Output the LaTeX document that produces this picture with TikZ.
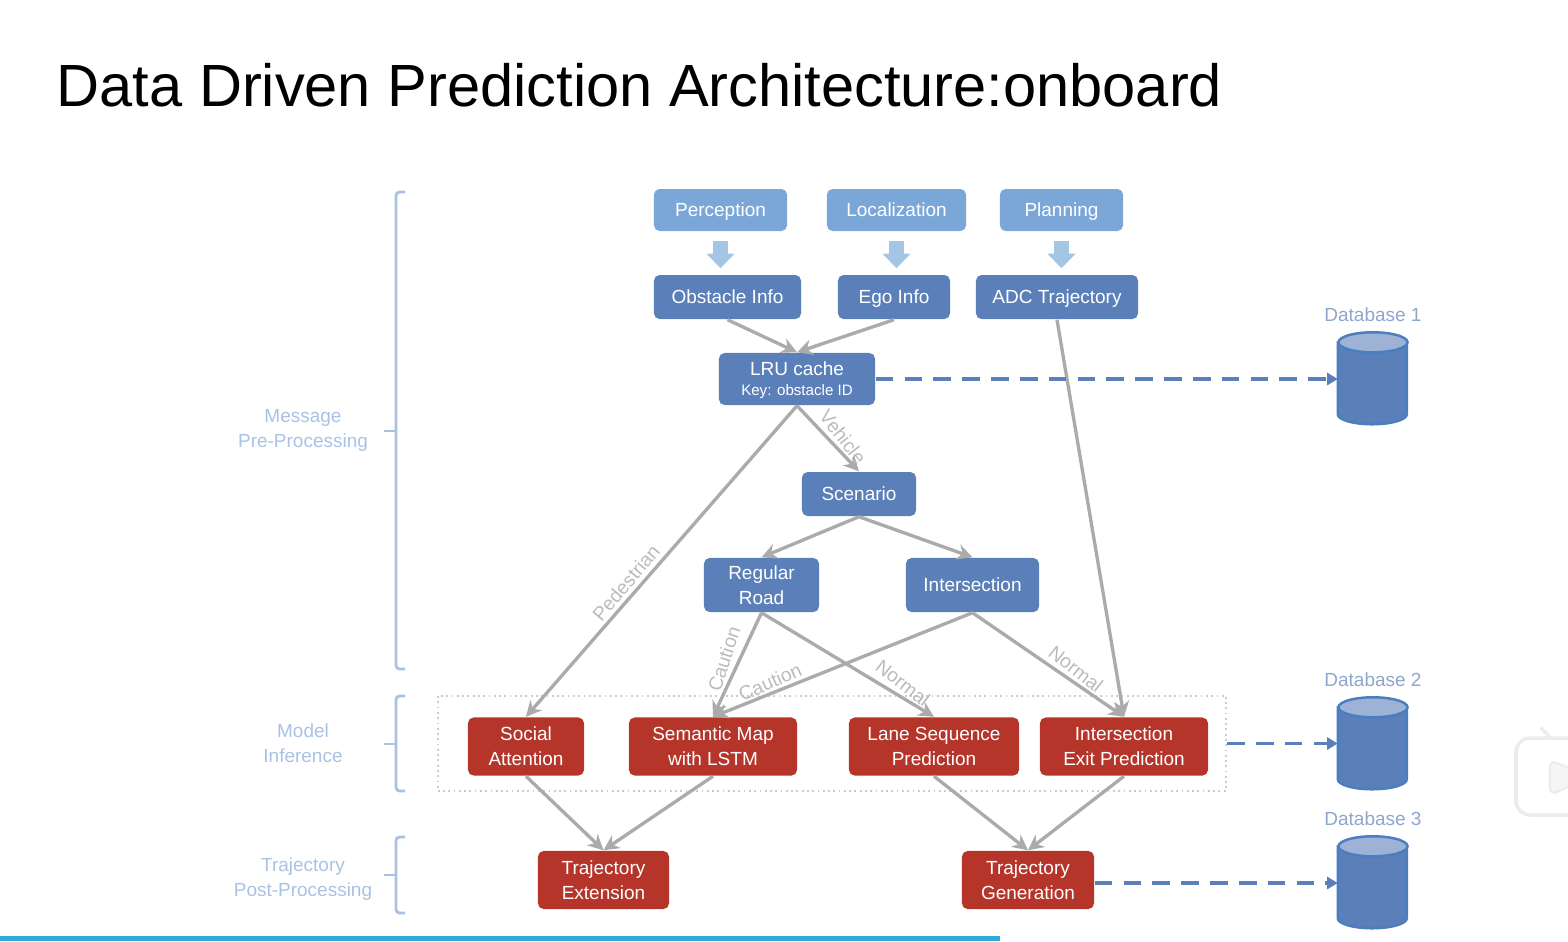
\documentclass[tikz,border=0pt]{standalone}
\usepackage{fontspec}
\setmainfont{Liberation Sans}
\usepackage{tikz}
\usetikzlibrary{arrows.meta,positioning}
\definecolor{InputBlue}{HTML}{7AA7D8}
\definecolor{FatBlue}{HTML}{A5C5E5}
\definecolor{BoxBlue}{HTML}{5B7FB8}
\definecolor{BoxRed}{HTML}{B5352B}
\definecolor{EdgeGray}{HTML}{ABABAB}
\definecolor{TagGray}{HTML}{BBBBBB}
\definecolor{SideBlue}{HTML}{A9C2E4}
\definecolor{DbEdge}{HTML}{4A7EC0}
\definecolor{DbTop}{HTML}{9DB2D5}
\definecolor{DbLabel}{HTML}{8FA6CC}
\definecolor{LineCyan}{HTML}{2BABD8}
\definecolor{IconEdge}{HTML}{ECECEC}
\definecolor{DotGray}{HTML}{C2CEE0}
\begin{document}
\begin{tikzpicture}[x=0.01cm,y=-0.01cm,
box/.style={rounded corners=1.6pt,text=white,minimum height=4.4mm,inner sep=0pt,align=center,font=\fontsize{5.4}{7.1}\selectfont},
oneline/.style={text height=3.9pt,text depth=0pt},
inbox/.style={box,oneline,fill=InputBlue,minimum height=4.2mm},
bluebox/.style={box,fill=BoxBlue},
redbox/.style={box,fill=BoxRed,minimum height=5.8mm},
arr/.style={-{Stealth[length=4.4pt,width=4.4pt]},line width=0.95pt,draw=EdgeGray},
fat/.style={-{Triangle[length=4.2pt,width=7.8pt]},line width=4pt,draw=FatBlue,shorten <=9*0.2845pt,shorten >=6*0.2845pt},
dasharr/.style={-{Triangle[length=3pt,width=3.4pt]},line width=1pt,draw=BoxBlue,dash pattern=on 5pt off 3.2pt},
tag/.style={text=TagGray,inner sep=0pt,font=\fontsize{5.5}{6.5}\selectfont},
side/.style={text=SideBlue,inner sep=0pt,align=center,font=\fontsize{5.4}{7.1}\selectfont},
bracket/.style={draw=SideBlue,line width=0.8pt,rounded corners=1pt},
db/.style={minimum width=6.9mm,minimum height=9.2mm,inner sep=0pt},
dbshape/.style={draw=DbEdge,line width=0.7pt},
dblabel/.style={text=DbLabel,inner sep=0pt,font=\fontsize{5.4}{6.5}\selectfont}
]
\useasboundingbox (0,0) rectangle (1568,941);
\node[anchor=west,inner sep=0pt,font=\fontsize{16.94}{20}\selectfont] (title) at (56,85) {Data Driven Prediction Architecture:onboard};
% side labels
\node[side] (sidemsg) at (303,430.5) {Message\\Pre-Processing};
\node[side] (sidemodel) at (303,743) {Model\\Inference};
\node[side] (sidetraj) at (303,879.5) {Trajectory\\Post-Processing};
\draw[bracket] (405,192) -- (396,192) -- (396,669) -- (405,669);
\draw[bracket] (384,431) -- (396,431);
\draw[bracket] (405,696) -- (396,696) -- (396,791) -- (405,791);
\draw[bracket] (384,744) -- (396,744);
\draw[bracket] (405,837) -- (396,837) -- (396,913) -- (405,913);
\draw[bracket] (384,875) -- (396,875);
% inputs
\node[inbox,minimum width=13.3mm] (percep) at (720.5,210) {Perception};
\node[inbox,minimum width=13.9mm] (local) at (896.5,210) {Localization};
\node[inbox,minimum width=12.3mm] (plan) at (1061.5,210) {Planning};
\node[bluebox,oneline,minimum width=14.7mm] (obstacle) at (727.5,297) {Obstacle Info};
\node[bluebox,oneline,minimum width=11.2mm] (ego) at (894,297) {Ego Info};
\node[bluebox,oneline,minimum width=16.2mm] (adc) at (1057,297) {ADC Trajectory};
\node[bluebox,minimum width=15.6mm,minimum height=5.2mm,text depth=0pt,font=\fontsize{5.4}{6}\selectfont] (lru) at (797,379) {LRU cache\\[-0.3pt]{\fontsize{4.3}{6}\selectfont Key: obstacle ID}};
\node[bluebox,oneline,minimum width=11.4mm] (scenario) at (859,494) {Scenario};
\node[bluebox,minimum width=11.5mm,minimum height=5.4mm] (regular) at (761.5,585) {Regular\\Road};
\node[bluebox,oneline,minimum width=13.3mm,minimum height=5.4mm] (inter) at (972.5,585) {Intersection};
% models
\node[draw=DotGray,densely dotted,line width=0.5pt,minimum width=78.8mm,minimum height=9.5mm,inner sep=0pt] (modelbox) at (832,743.5) {};
\node[redbox,minimum width=11.6mm] (social) at (526,746.5) {Social\\Attention};
\node[redbox,minimum width=16.8mm] (semantic) at (713,746.5) {Semantic Map\\with LSTM};
\node[redbox,minimum width=17mm] (lane) at (934,746.5) {Lane Sequence\\Prediction};
\node[redbox,minimum width=16.8mm] (exit) at (1124,746.5) {Intersection\\Exit Prediction};
\node[redbox,minimum width=13.1mm] (extend) at (603.5,880) {Trajectory\\Extension};
\node[redbox,minimum width=13.2mm] (generate) at (1028,880) {Trajectory\\Generation};
% databases
\node[db] (db1) at (1373,379) {};
\node[db] (db2) at (1373,744) {};
\node[db] (db3) at (1373,883) {};
\foreach \n in {db1,db2,db3} {
\draw[dbshape,fill=BoxBlue] (\n.north west) ++(0,10) -- ++(0,72) arc[start angle=180,end angle=360,x radius=0.345cm,y radius=0.1cm] -- ++(0,-72) -- cycle;
\draw[dbshape,fill=DbTop] (\n.north) ++(0,10) ellipse[x radius=0.345cm,y radius=0.1cm];
}
\node[dblabel] (dbname1) at (1373,315) {Database 1};
\node[dblabel] (dbname2) at (1373,680) {Database 2};
\node[dblabel] (dbname3) at (1373,819) {Database 3};
% edges
\draw[fat,xshift=-2*0.2845pt] (percep.south) -- (percep.south |- obstacle.north);
\draw[fat] (local.south) -- (local.south |- ego.north);
\draw[fat] (plan.south) -- (plan.south |- adc.north);
\draw[arr] (obstacle.south) -- (lru.north);
\draw[arr] (ego.south) -- (lru.north);
\draw[arr] (adc.south) -- (exit.north);
\draw[arr] (lru.south) -- (social.north);
\draw[arr] (lru.south) -- (scenario.north);
\draw[arr] (scenario.south) -- (regular.north);
\draw[arr] (scenario.south) -- (inter.north);
\draw[arr] (regular.south) -- (semantic.north);
\draw[arr] (regular.south) -- (lane.north);
\draw[arr] (inter.south) -- (semantic.north);
\draw[arr] (inter.south) -- (exit.north);
\draw[arr] (social.south) -- (extend.north);
\draw[arr] (semantic.south) -- (extend.north);
\draw[arr] (lane.south) -- (generate.north);
\draw[arr] (exit.south) -- (generate.north);
\draw[dasharr] (lru.east) -- (lru.east -| db1.west);
\draw[dasharr] (modelbox.east) -- (modelbox.east -| db2.west);
\draw[dasharr] (generate.east |- db3.west) -- (db3.west);
% edge tags
\node[tag,rotate=-52] (tagvehicle) at (843,437) {Vehicle};
\node[tag,rotate=50] (tagped) at (626,583) {Pedestrian};
\node[tag,rotate=72] (tagcaut1) at (724,659) {Caution};
\node[tag,rotate=24] (tagcaut2) at (770,682) {Caution};
\node[tag,rotate=-38] (tagnorm1) at (903,683) {Normal};
\node[tag,rotate=-38] (tagnorm2) at (1076,669) {Normal};
% bottom line and corner icon
\fill[LineCyan] (0,936) rectangle (1000,941);
\begin{scope}
\clip (1500,700) rectangle (1568,830);
\draw[IconEdge,line width=1pt,fill=white,rounded corners=4pt] (1516,738) rectangle (1620,815);
\draw[IconEdge,line width=1pt,line cap=round] (1541,728) -- (1551,738);
\draw[IconEdge,line width=0.6pt,fill=IconEdge!50,rounded corners=2pt] (1550,760) -- (1550,795) -- (1590,777) -- cycle;
\end{scope}
\end{tikzpicture}
\end{document}
